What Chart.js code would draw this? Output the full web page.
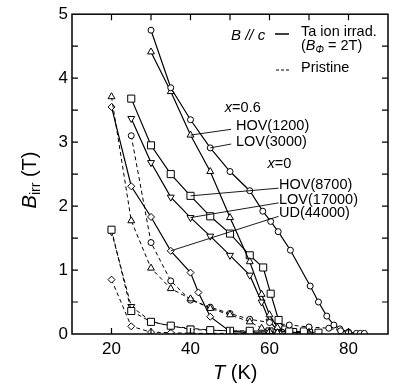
<!DOCTYPE html>
<html>
<head>
<meta charset="utf-8">
<script src="https://cdn.jsdelivr.net/npm/chart.js@4/dist/chart.umd.min.js"></script>
<style>
  html, body { margin: 0; padding: 0; background: #fff; }
</style>
</head>
<body>
<canvas id="chart" width="394" height="385"></canvas>
<script>
// axis ticks
const xTickLabels = [20, 40, 60, 80];
const yTickLabels = [0, 1, 2, 3, 4, 5];

// Ta ion irradiated (solid)
const irr06CircleT = [30, 35, 40, 45, 50, 55, 58.3, 60.3, 62.2, 65.3, 70.3, 72.4, 74.5, 76.3, 77.8, 80, 82, 83, 84];
const irr06CircleB = [4.75, 3.85, 3.35, 2.91, 2.54, 2.24, 1.92, 1.76, 1.6, 1.31, 0.75, 0.5, 0.28, 0.14, 0.08, 0.03, 0.01, 0.01, 0.01];
const irr06TriT = [30, 35, 40, 45, 50, 55, 58, 60, 62, 65, 70];
const irr06TriB = [4.41, 3.79, 3.11, 2.54, 1.82, 1.13, 0.62, 0.3, 0.1, 0.03, 0.01];
const irr0SquareT = [25, 30, 35, 40, 45, 50, 55, 58.4, 60.3, 62.3, 64, 66, 70];
const irr0SquareB = [3.68, 2.95, 2.5, 2.16, 1.84, 1.57, 1.23, 1.04, 0.63, 0.22, 0.07, 0.03, 0.02];
const irr0InvTriT = [25, 30, 35, 40, 45, 50, 55, 58, 60, 62, 65];
const irr0InvTriB = [3.37, 2.68, 2.14, 1.82, 1.53, 1.23, 0.92, 0.5, 0.2, 0.06, 0.02];
const irr0DiamondT = [20, 25, 30, 35, 40, 42, 45, 50, 55, 60, 63];
const irr0DiamondB = [3.55, 2.31, 1.83, 1.3, 0.96, 0.65, 0.27, 0.04, 0.02, 0.01, 0.01];

// Pristine (dashed)
const pri06TriT = [20, 25, 30, 35, 40, 45, 50, 55, 58, 60, 62];
const pri06TriB = [3.71, 1.77, 1.03, 0.71, 0.55, 0.4, 0.3, 0.19, 0.09, 0.04, 0.02];
const pri06CircleT = [25, 30, 35, 40, 45, 50, 55, 60, 65, 70, 75, 78, 80];
const pri06CircleB = [3.1, 1.43, 0.83, 0.53, 0.42, 0.32, 0.23, 0.18, 0.14, 0.11, 0.09, 0.05, 0.02];
const pri0SquareT = [20, 25, 30, 35, 40, 45, 50, 55, 60, 65, 68.7, 72.4];
const pri0SquareB = [1.63, 0.36, 0.19, 0.13, 0.07, 0.06, 0.05, 0.05, 0.04, 0.04, 0.04, 0.02];
const pri0InvTriT = [20, 25, 30, 35, 40, 45, 50, 55, 60];
const pri0InvTriB = [1.6, 0.43, 0.2, 0.12, 0.09, 0.06, 0.05, 0.04, 0.03];
const pri0DiamondT = [20, 25, 30, 35, 40, 45, 50, 55, 60];
const pri0DiamondB = [0.85, 0.12, 0.03, 0.02, 0.01, 0.01, 0.01, 0.01, 0.01];

const FONT = "'Liberation Sans', Arial, sans-serif";

const pts = (T, B) => T.map((t, i) => ({ x: t, y: B[i] }));

// marker shape -> chart.js point settings
const markers = {
  circle:  { pointStyle: 'circle',   pointRadius: 3,   pointRotation: 0 },
  tri:     { pointStyle: 'triangle', pointRadius: 4,   pointRotation: 0 },
  invtri:  { pointStyle: 'triangle', pointRadius: 4,   pointRotation: 180 },
  square:  { pointStyle: 'rect',     pointRadius: 5,   pointRotation: 0 },
  diamond: { pointStyle: 'rectRot',  pointRadius: 3.5, pointRotation: 0 }
};

const makeSet = (label, T, B, marker, dashed) => ({
  label: label,
  data: pts(T, B),
  showLine: true,
  borderColor: '#000',
  borderWidth: dashed ? 1 : 1.2,
  borderDash: dashed ? [4, 3] : [],
  pointBackgroundColor: '#fff',
  pointBorderColor: '#000',
  pointBorderWidth: 1,
  ...markers[marker]
});

const datasets = [
  makeSet('pri06Tri', pri06TriT, pri06TriB, 'tri', true),
  makeSet('pri06Circle', pri06CircleT, pri06CircleB, 'circle', true),
  makeSet('pri0Square', pri0SquareT, pri0SquareB, 'square', true),
  makeSet('pri0InvTri', pri0InvTriT, pri0InvTriB, 'invtri', true),
  makeSet('pri0Diamond', pri0DiamondT, pri0DiamondB, 'diamond', true),
  makeSet('irr06Circle', irr06CircleT, irr06CircleB, 'circle', false),
  makeSet('irr06Tri', irr06TriT, irr06TriB, 'tri', false),
  makeSet('irr0Square', irr0SquareT, irr0SquareB, 'square', false),
  makeSet('irr0InvTri', irr0InvTriT, irr0InvTriB, 'invtri', false),
  makeSet('irr0Diamond', irr0DiamondT, irr0DiamondB, 'diamond', false)
];

// labels with leader lines (positions in data units), target = [T, B] of the point they mark
const seriesLabels = [
  { text: 'HOV(1200)', x: 51.5, y: 3.25, from: [50.3, 3.2], to: [irr06TriT[2], irr06TriB[2]] },
  { text: 'LOV(3000)', x: 51.5, y: 3.0, from: [50.3, 2.97], to: [irr06CircleT[3], irr06CircleB[3]] },
  { text: 'HOV(8700)', x: 62.4, y: 2.33, from: [62.3, 2.28], to: [irr0SquareT[3], irr0SquareB[3]] },
  { text: 'LOV(17000)', x: 62.4, y: 2.1, from: [62.3, 2.05], to: [irr0InvTriT[3], irr0InvTriB[3]] },
  { text: 'UD(44000)', x: 62.4, y: 1.89, from: [62.3, 1.84], to: [irr0DiamondT[3], irr0DiamondB[3]] }
];

// draw a run of text pieces, some italic / subscript
function drawRich(ctx, x, y, parts, size) {
  let cx = x;
  parts.forEach(p => {
    const s = p.sub ? size * 0.7 : size;
    ctx.font = (p.italic ? 'italic ' : '') + s + 'px ' + FONT;
    ctx.fillText(p.t, cx, y + (p.sub ? size * 0.3 : 0));
    cx += ctx.measureText(p.t).width;
  });
}

const decor = {
  id: 'decor',
  afterDraw(chart) {
    const ctx = chart.ctx;
    const xs = chart.scales.x, ys = chart.scales.y;
    const a = chart.chartArea;
    ctx.save();
    ctx.strokeStyle = '#000';
    ctx.fillStyle = '#000';

    // frame
    ctx.lineWidth = 1.5;
    ctx.strokeRect(a.left, a.top, a.right - a.left, a.bottom - a.top);

    // inward ticks
    ctx.lineWidth = 1.2;
    ctx.beginPath();
    for (let t = 20; t <= 80; t += 10) {
      const px = xs.getPixelForValue(t);
      ctx.moveTo(px, a.bottom); ctx.lineTo(px, a.bottom - 6);
      ctx.moveTo(px, a.top); ctx.lineTo(px, a.top + 6);
    }
    for (let b = 0.5; b < 5; b += 0.5) {
      const py = ys.getPixelForValue(b);
      ctx.moveTo(a.left, py); ctx.lineTo(a.left + 6, py);
      ctx.moveTo(a.right, py); ctx.lineTo(a.right - 6, py);
    }
    ctx.stroke();

    ctx.textBaseline = 'middle';
    ctx.textAlign = 'left';

    // axis titles
    drawRich(ctx, 213, 373, [{ t: 'T', italic: true }, { t: ' (K)' }], 20);
    ctx.save();
    ctx.translate(30, 180);
    ctx.rotate(-Math.PI / 2);
    ctx.font = 'italic 20px ' + FONT;
    const w = ctx.measureText('B').width;
    ctx.font = '14px ' + FONT;
    const w2 = ctx.measureText('irr').width;
    ctx.font = '20px ' + FONT;
    const w3 = ctx.measureText(' (T)').width;
    drawRich(ctx, -(w + w2 + w3) / 2, 0, [{ t: 'B', italic: true }, { t: 'irr', sub: true }, { t: ' (T)' }], 20);
    ctx.restore();

    // legend
    drawRich(ctx, 231, 36, [{ t: 'B', italic: true }, { t: ' // ' , italic: true }, { t: 'c', italic: true }], 15);
    ctx.lineWidth = 1.5;
    ctx.setLineDash([]);
    ctx.beginPath(); ctx.moveTo(275, 34); ctx.lineTo(289, 34); ctx.stroke();
    ctx.lineWidth = 1.2;
    ctx.setLineDash([3, 2]);
    ctx.beginPath(); ctx.moveTo(276, 70); ctx.lineTo(290, 70); ctx.stroke();
    ctx.setLineDash([]);
    drawRich(ctx, 301, 32, [{ t: 'Ta ion irrad.' }], 14.5);
    drawRich(ctx, 301, 46, [{ t: '(' }, { t: 'B', italic: true }, { t: 'Φ', italic: true, sub: true }, { t: ' = 2T)' }], 14.5);
    drawRich(ctx, 301, 68, [{ t: 'Pristine' }], 14.5);

    // group headers
    drawRich(ctx, xs.getPixelForValue(48.7), ys.getPixelForValue(3.53), [{ t: 'x', italic: true }, { t: '=0.6' }], 14.5);
    drawRich(ctx, xs.getPixelForValue(59.5), ys.getPixelForValue(2.66), [{ t: 'x', italic: true }, { t: '=0' }], 14.5);

    // series labels and leaders
    ctx.lineWidth = 0.9;
    seriesLabels.forEach(l => {
      ctx.beginPath();
      ctx.moveTo(xs.getPixelForValue(l.from[0]), ys.getPixelForValue(l.from[1]));
      ctx.lineTo(xs.getPixelForValue(l.to[0]), ys.getPixelForValue(l.to[1]));
      ctx.stroke();
      drawRich(ctx, xs.getPixelForValue(l.x), ys.getPixelForValue(l.y), [{ t: l.text }], 14.5);
    });
    ctx.restore();
  }
};

new Chart(document.getElementById('chart'), {
  type: 'scatter',
  data: { datasets: datasets },
  options: {
    responsive: false,
    animation: false,
    devicePixelRatio: 1,
    layout: { padding: { top: 14, right: 1, left: 0, bottom: 0 } },
    plugins: { legend: { display: false }, tooltip: { enabled: false } },
    elements: { line: { tension: 0 } },
    scales: {
      x: {
        type: 'linear', min: 10, max: 90,
        grid: { display: false, drawTicks: false },
        border: { display: false },
        afterFit: s => { s.height = 51; },
        afterBuildTicks: s => { s.ticks = xTickLabels.map(v => ({ value: v })); },
        ticks: { color: '#000', padding: 5, font: { family: FONT, size: 17 }, maxRotation: 0, callback: v => v }
      },
      y: {
        type: 'linear', min: 0, max: 5,
        grid: { display: false, drawTicks: false },
        border: { display: false },
        afterFit: s => { s.width = 72; },
        afterBuildTicks: s => { s.ticks = yTickLabels.map(v => ({ value: v })); },
        ticks: { color: '#000', padding: 4, font: { family: FONT, size: 17 }, callback: v => v }
      }
    }
  },
  plugins: [decor]
});
</script>
</body>
</html>
